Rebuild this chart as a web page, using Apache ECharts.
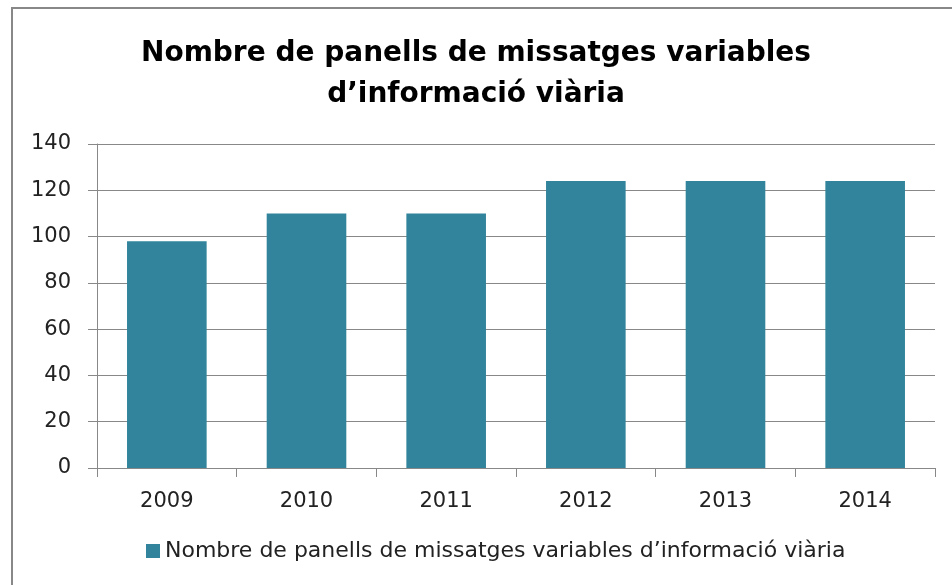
<!DOCTYPE html>
<html lang="ca">
<head>
  <meta charset="UTF-8">
  <title>Nombre de panells de missatges variables</title>
  <script src="https://cdn.jsdelivr.net/npm/echarts@6/dist/echarts.min.js"></script>
  <style>
    html, body { margin: 0; padding: 0; background: #fff; }
    #chart { width: 952px; height: 585px; }
  </style>
</head>
<body>
  <div id="chart"></div>
  <script>
    // dades
    const years = ['2009', '2010', '2011', '2012', '2013', '2014'];
    const panells = [98, 110, 110, 124, 124, 124];
    const yTicks = { min: 0, max: 140, interval: 20 };
    const seriesName = 'Nombre de panells de missatges variables d\u2019informació viària';
    const titleText = 'Nombre de panells de missatges variables\nd\u2019informació viària';

    const font = '"DejaVu Sans", sans-serif';
    const chart = echarts.init(document.getElementById('chart'));

    chart.setOption({
      animation: false,
      textStyle: { fontFamily: font },
      graphic: [{
        type: 'rect',
        shape: { x: 12, y: 8, width: 1000, height: 700 },
        style: { fill: 'none', stroke: '#888', lineWidth: 2 },
        silent: true
      }],
      title: {
        text: titleText,
        left: 'center',
        top: 28,
        textStyle: { fontFamily: font, fontSize: 28, fontWeight: 'bold', color: '#000', lineHeight: 41 }
      },
      legend: {
        bottom: 18,
        left: 141,
        icon: 'rect',
        itemWidth: 14,
        itemHeight: 14,
        itemGap: 6,
        textStyle: { fontFamily: font, fontSize: 22, color: '#222' },
        data: [seriesName]
      },
      grid: { left: 97, right: 17, top: 144, bottom: 117 },
      xAxis: {
        type: 'category',
        data: years,
        axisLine: { lineStyle: { color: '#888' } },
        axisTick: { show: true, length: 9, lineStyle: { color: '#888' } },
        axisLabel: { fontSize: 21, color: '#222', margin: 23 }
      },
      yAxis: {
        type: 'value',
        min: yTicks.min,
        max: yTicks.max,
        interval: yTicks.interval,
        axisLine: { show: true, lineStyle: { color: '#888' } },
        axisTick: { show: true, length: 9, lineStyle: { color: '#888' } },
        axisLabel: { fontSize: 21, color: '#222', margin: 26, padding: [4, 0, 0, 0] },
        splitLine: { lineStyle: { color: '#888' } }
      },
      series: [{
        name: seriesName,
        type: 'bar',
        data: panells,
        barWidth: '57%',
        itemStyle: { color: '#31849b' }
      }]
    });
  </script>
</body>
</html>
